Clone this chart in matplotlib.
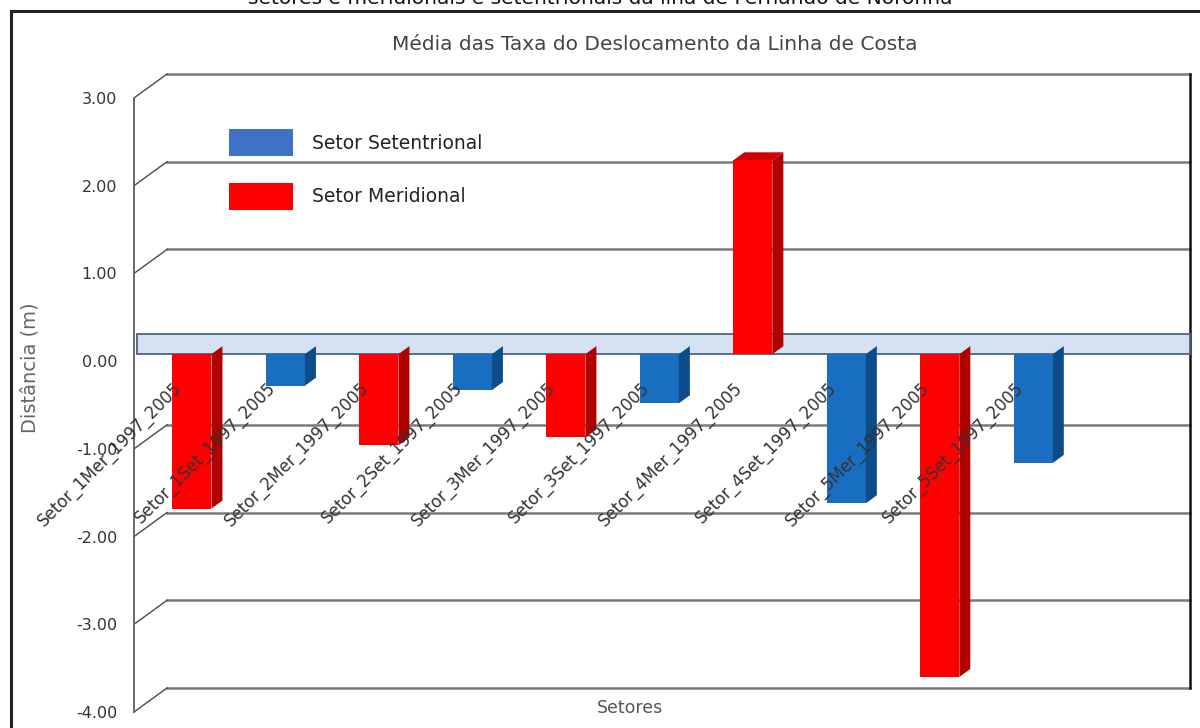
import matplotlib
matplotlib.use("Agg")
import matplotlib.pyplot as plt
from matplotlib.patches import Polygon, Rectangle, Patch
from matplotlib.lines import Line2D

# data
setores = ["Setor_1Mer_1997_2005", "Setor_1Set_1997_2005", "Setor_2Mer_1997_2005",
           "Setor_2Set_1997_2005", "Setor_3Mer_1997_2005", "Setor_3Set_1997_2005",
           "Setor_4Mer_1997_2005", "Setor_4Set_1997_2005", "Setor_5Mer_1997_2005",
           "Setor_5Set_1997_2005"]
taxas = [-1.76, -0.36, -1.04, -0.41, -0.95, -0.56, 2.21, -1.70, -3.68, -1.24]
yticks = [3, 2, 1, 0, -1, -2, -3, -4]
serie_nomes = ["Setor Setentrional", "Setor Meridional"]

titulo = "Média das Taxa do Deslocamento da Linha de Costa"
legenda_fig = "setores e meridionais e setentrionais da ilha de Fernando de Noronha"

# colours: front, side, top
cores = {"Set": ("#1a6ec2", "#0c4c88", "#14579c"),
         "Mer": ("#ff0000", "#b00000", "#d00000")}
cor_leg = {"Set": "#3f72c6", "Mer": "#ff0000"}

W, H = 1200, 728
fig = plt.figure(figsize=(12, 7.28), dpi=100)
fig.patch.set_facecolor("white")

# front plane of the box (pixels): x 134..1157, y 98..712
ax = fig.add_axes([134 / W, (H - 712) / H, (1157 - 134) / W, (712 - 98) / H])
xmin, xmax = -0.513, 10.43
ax.set_xlim(xmin, xmax)
ax.set_ylim(-4, 3)
pxx = (1157 - 134) / (xmax - xmin)
pxy = (712 - 98) / 7.0

DX, DY = 33 / pxx, 24 / pxy          # depth of the back wall
BX, BY = 10 / pxx, 7 / pxy           # bar front face offset
SX, SY = 11 / pxx, 8 / pxy           # bar depth
BW = 39 / pxx                        # bar width

for s in ["top", "right", "bottom"]:
    ax.spines[s].set_visible(False)
ax.spines["left"].set_color("#6a6a6a")
ax.spines["left"].set_linewidth(1.4)
ax.set_xticks([])
ax.set_yticks(yticks)
ax.set_yticklabels(["%.2f" % t for t in yticks])
ax.tick_params(axis="y", length=0, pad=12, labelsize=11.5, labelcolor="#333333")

# back wall grid + connectors
for t in yticks:
    if t == 0:
        continue
    ax.plot([xmin + DX, xmax + DX], [t + DY, t + DY], color="#7a7a7a", lw=1.8,
            clip_on=False, zorder=1)
    ax.plot([xmin, xmin + DX], [t, t + DY], color="#4a4a4a", lw=1.0,
            clip_on=False, zorder=1)
ax.plot([xmax + DX, xmax + DX], [-4 + DY, 3 + DY], color="#111111", lw=1.8,
        clip_on=False, zorder=1)

# zero plane
ax.add_patch(Rectangle((xmin + 0.03, BY), xmax + DX - xmin - 0.03, DY - BY + 0.04,
                       facecolor="#d4e2f4", edgecolor="#4d6283", lw=1.3,
                       clip_on=False, zorder=2))

# bars
for i, (nome, v) in enumerate(zip(setores, taxas)):
    tipo = "Mer" if "Mer" in nome else "Set"
    frente, lado, topo = cores[tipo]
    xl = i - BW / 2 + BX
    xr = xl + BW
    ax.add_patch(Rectangle((xl, BY), BW, v, facecolor=frente, edgecolor="none",
                           zorder=3, clip_on=False))
    ax.add_patch(Polygon([(xr, BY), (xr + SX, BY + SY), (xr + SX, v + BY + SY),
                          (xr, v + BY)], closed=True, facecolor=lado,
                         edgecolor="none", zorder=3, clip_on=False))
    if v > 0:
        ax.add_patch(Polygon([(xl, v + BY), (xl + SX, v + BY + SY),
                              (xr + SX, v + BY + SY), (xr, v + BY)], closed=True,
                             facecolor=topo, edgecolor="none", zorder=3,
                             clip_on=False))
    ax.text(i - 0.03, -0.27, nome, rotation=45, rotation_mode="anchor",
            ha="right", va="center", fontsize=12, color="#333333", zorder=5)

# legend
handles = [Patch(facecolor=cor_leg["Set"], edgecolor="none"),
           Patch(facecolor=cor_leg["Mer"], edgecolor="none")]
fig.legend(handles, serie_nomes, loc="upper left",
           bbox_to_anchor=(220 / W, 1 - 120 / H), frameon=False,
           fontsize=13.5, handlelength=3.4, handleheight=1.8,
           handletextpad=1.0, labelspacing=1.45, borderpad=0,
           labelcolor="#222222")

# texts
fig.text(655 / W, 1 - 45 / H, titulo, ha="center", va="center",
         fontsize=14.5, color="#444444")
fig.text(30 / W, 1 - 368 / H, "Distância (m)", rotation=90, ha="center",
         va="center", fontsize=14, color="#666666")
fig.text(630 / W, 1 - 708 / H, "Setores", ha="center", va="center",
         fontsize=12.5, color="#555555")
# caption of the source figure, cut by the top edge as in the original
fig.text(600 / W, 1 - 4 / H, legenda_fig, ha="center", va="baseline",
         fontsize=14.5, color="#111111")

# outer frame
fig.add_artist(Line2D([11 / W, 1200 / W], [1 - 11 / H, 1 - 11 / H],
                      color="#222222", lw=2.2))
fig.add_artist(Line2D([11 / W, 11 / W], [1 - 11 / H, 0], color="#222222", lw=2.2))

fig.savefig("out.png", dpi=100)
